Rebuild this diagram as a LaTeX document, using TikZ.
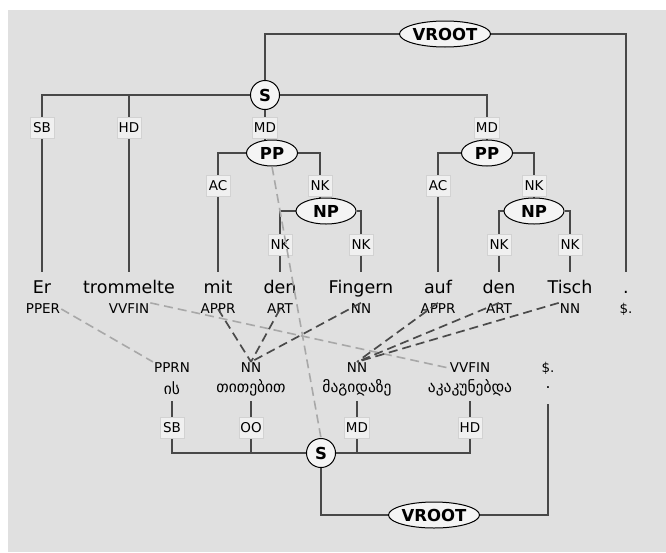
\documentclass[tikz,border=0pt]{standalone}
\usepackage{fontspec}
\setmainfont{DejaVu Sans}
\usetikzlibrary{shapes.geometric,backgrounds}
\definecolor{bg}{HTML}{E0E0E0}
\definecolor{treeline}{HTML}{484848}
\definecolor{lblfill}{HTML}{F0F0F0}
\definecolor{lbldraw}{HTML}{D2D2D2}
\definecolor{catfill}{HTML}{F4F4F4}
\definecolor{darkdash}{HTML}{4A4A4A}
\definecolor{lightdash}{HTML}{A8A8A8}
\newcommand{\ctext}[1]{\smash{\makebox[0pt]{\raisebox{-0.365em}{#1}}}}
\tikzset{
  word/.style={inner sep=1pt, font=\fontsize{17.5}{19}\selectfont},
  geo/.style={inner sep=1pt, font=\fontsize{15.5}{17}\selectfont},
  postag/.style={inner sep=1pt, font=\fontsize{13.5}{15}\selectfont},
  lbl/.style={rectangle, fill=lblfill, draw=lbldraw, line width=0.6pt, inner sep=1.5pt, minimum width=24pt, minimum height=21pt, font=\fontsize{13.5}{15}\selectfont},
  cat/.style={ellipse, draw=black, fill=catfill, line width=1pt, inner sep=0pt, minimum height=26pt, font=\fontsize{16.5}{19}\selectfont\bfseries},
  scirc/.style={circle, draw=black, fill=catfill, line width=1pt, inner sep=0pt, minimum size=29pt, font=\fontsize{16.5}{19}\selectfont\bfseries},
  tl/.style={draw=treeline, line width=1.5pt},
  dd/.style={draw=darkdash, line width=1.7pt, dash pattern=on 9pt off 5pt},
  ld/.style={draw=lightdash, line width=1.6pt, dash pattern=on 9pt off 5pt},
}
\begin{document}
\begin{tikzpicture}[x=1pt,y=-1pt]
\useasboundingbox (0,0) rectangle (666,552);
\begin{scope}[on background layer]
\fill[white] (0,0) rectangle (666,552);
\fill[bg] (8,10) rectangle (666,552);
\end{scope}

% ---------- top tree ----------
\node[cat, minimum width=91pt] (vr1) at (445,34) {\ctext{VROOT}};
\node[scirc] (s1) at (265,95) {\ctext{S}};
\node[lbl] (sb1) at (42,128) {SB};
\node[lbl] (hd1) at (129,128) {HD};
\node[lbl] (md1) at (265,128) {MD};
\node[lbl] (md2) at (487,128) {MD};
\node[cat, minimum width=51pt] (pp1) at (272,153) {\ctext{PP}};
\node[cat, minimum width=51pt] (pp2) at (487,153) {\ctext{PP}};
\node[lbl] (ac1) at (218,186) {AC};
\node[lbl] (nk1) at (320,186) {NK};
\node[lbl] (ac2) at (438,186) {AC};
\node[lbl] (nk2) at (534,186) {NK};
\node[cat, minimum width=60pt] (np1) at (326,211) {\ctext{NP}};
\node[cat, minimum width=60pt] (np2) at (534,211) {\ctext{NP}};
\node[lbl] (nk3) at (280,245) {NK};
\node[lbl] (nk4) at (361,245) {NK};
\node[lbl] (nk5) at (499,245) {NK};
\node[lbl] (nk6) at (570,245) {NK};

% words
\node[word, anchor=base] (w1) at (42,293) {Er};
\node[word, anchor=base] (w2) at (129,293) {trommelte};
\node[word, anchor=base] (w3) at (218,293) {mit};
\node[word, anchor=base] (w4) at (280,293) {den};
\node[word, anchor=base] (w5) at (361,293) {Fingern};
\node[word, anchor=base] (w6) at (438,293) {auf};
\node[word, anchor=base] (w7) at (499,293) {den};
\node[word, anchor=base] (w8) at (570,293) {Tisch};
\node[word, anchor=base] (w9) at (626,293) {.};
\node[postag] (p1) at (43,309) {PPER};
\node[postag] (p2) at (129,309) {VVFIN};
\node[postag] (p3) at (218,309) {APPR};
\node[postag] (p4) at (280,309) {ART};
\node[postag] (p5) at (361,309) {NN};
\node[postag] (p6) at (438,309) {APPR};
\node[postag] (p7) at (499,309) {ART};
\node[postag] (p8) at (570,309) {NN};
\node[postag] (p9) at (626,309) {\$.};
\coordinate (t1) at (42,272);
\coordinate (t2) at (129,272);
\coordinate (t3) at (218,272);
\coordinate (t4) at (280,272);
\coordinate (t5) at (361,272);
\coordinate (t6) at (438,272);
\coordinate (t7) at (499,272);
\coordinate (t8) at (570,272);
\coordinate (t9) at (626,272);

% ---------- bottom tree ----------
\node[postag] (q1) at (172,368) {PPRN};
\node[postag] (q2) at (251,368) {NN};
\node[postag] (q3) at (357,368) {NN};
\node[postag] (q4) at (470,368) {VVFIN};
\node[postag] (q5) at (548,368) {\$.};
\node[geo] (k1) at (172,388) {ის};
\node[geo] (k2) at (251,388) {თითებით};
\node[geo] (k3) at (357,388) {მაგიდაზე};
\node[geo] (k4) at (470,388) {აკაკუნებდა};
\node[geo] (k5) at (548,388) {.};
\coordinate (b1) at (172,401);
\coordinate (b2) at (251,401);
\coordinate (b3) at (357,401);
\coordinate (b4) at (470,401);
\coordinate (b5) at (548,404);
\node[lbl] (sb2) at (172,428) {SB};
\node[lbl] (oo2) at (251,428) {OO};
\node[lbl] (md3) at (357,428) {MD};
\node[lbl] (hd2) at (470,428) {HD};
\node[scirc] (s2) at (321,453) {\ctext{S}};
\node[cat, minimum width=91pt] (vr2) at (434,515) {\ctext{VROOT}};

\begin{scope}[on background layer]
\path[tl] (vr1.west) -| (s1.north);
\path[tl] (vr1.east) -| (t9);
\path[tl] (s1.west) -| (sb1.north);
\path[tl] (s1.west) -| (hd1.north);
\path[tl] (s1.south) -- (md1.north);
\path[tl] (s1.east) -| (md2.north);
\path[tl] (sb1.south) -- (t1);
\path[tl] (hd1.south) -- (t2);
\path[tl] (md1.south) -- (pp1.north -| md1.south);
\path[tl] (md2.south) -- (pp2.north);
\path[tl] (pp1.west) -| (ac1.north);
\path[tl] (pp1.east) -| (nk1.north);
\path[tl] (pp2.west) -| (ac2.north);
\path[tl] (pp2.east) -| (nk2.north);
\path[tl] (nk1.south) -- (np1.north -| nk1.south);
\path[tl] (nk2.south) -- (np2.north);
\path[tl] (np1.west) -| (nk3.north);
\path[tl] (np1.east) -| (nk4.north);
\path[tl] (np2.west) -| (nk5.north);
\path[tl] (np2.east) -| (nk6.north);
\path[tl] (ac1.south) -- (t3);
\path[tl] (nk3.south) -- (t4);
\path[tl] (nk4.south) -- (t5);
\path[tl] (ac2.south) -- (t6);
\path[tl] (nk5.south) -- (t7);
\path[tl] (nk6.south) -- (t8);
\path[tl] (b1) -- (sb2.north);
\path[tl] (b2) -- (oo2.north);
\path[tl] (b3) -- (md3.north);
\path[tl] (b4) -- (hd2.north);
\path[tl] (sb2.south) |- (s2.west);
\path[tl] (oo2.south) |- (s2.west);
\path[tl] (md3.south) |- (s2.east);
\path[tl] (hd2.south) |- (s2.east);
\path[tl] (s2.south) |- (vr2.west);
\path[tl] (vr2.east) -| (b5);
\end{scope}

% ---------- alignment links ----------
\path[ld] (p1.east) -- (q1.north west);
\path[ld] (p2.north east) -- (q4.west);
\path[ld] (pp1.south) -- (s2.north);
\path[dd] (p3.center) -- (q2.north);
\path[dd] (p4.center) -- (q2.north);
\path[dd] (p5.north) -- (q2.north);
\path[dd] (p6.north) -- (q3.north);
\path[dd] (p7.north) -- (q3.north);
\path[dd] (p8.north west) -- (q3.north);
\end{tikzpicture}
\end{document}
